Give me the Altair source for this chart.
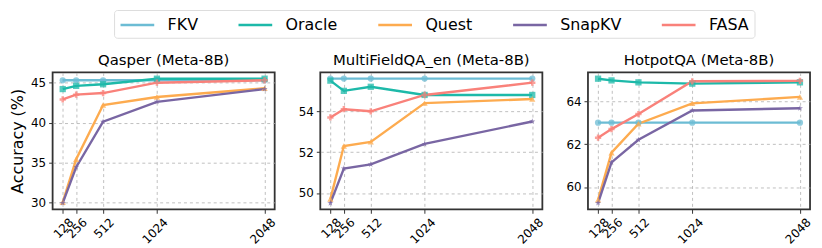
import altair as alt
import pandas as pd

budgets = [128, 256, 512, 1024, 2048]
methods = ["FKV", "Oracle", "Quest", "SnapKV", "FASA"]
colors = ["#6cbcd4", "#1db9a9", "#fdab4f", "#7966a3", "#f9817a"]

star = "M0,-1L0.235,-0.324L0.951,-0.309L0.38,0.124L0.588,0.809L0,0.4L-0.588,0.809L-0.38,0.124L-0.951,-0.309L-0.235,-0.324Z"
shapes = ["circle", "square", "triangle-up", star, "cross"]

# Qasper (Meta-8B)
qasper_fkv = [45.3, 45.3, 45.3, 45.3, 45.3]
qasper_oracle = [44.2, 44.6, 44.8, 45.5, 45.5]
qasper_quest = [30.0, 35.4, 42.2, 43.2, 44.3]
qasper_snapkv = [29.9, 34.4, 40.1, 42.6, 44.2]
qasper_fasa = [42.9, 43.5, 43.7, 45.0, 45.3]

# MultiFieldQA_en (Meta-8B)
mf_fkv = [55.6, 55.6, 55.6, 55.6, 55.6]
mf_oracle = [55.5, 55.0, 55.2, 54.8, 54.8]
mf_quest = [49.7, 52.3, 52.5, 54.4, 54.6]
mf_snapkv = [49.5, 51.2, 51.4, 52.4, 53.5]
mf_fasa = [53.7, 54.1, 54.0, 54.8, 55.4]

# HotpotQA (Meta-8B)
hp_fkv = [63.0, 63.0, 63.0, 63.0, 63.0]
hp_oracle = [65.05, 64.97, 64.88, 64.82, 64.88]
hp_quest = [59.4, 61.6, 62.95, 63.9, 64.2]
hp_snapkv = [59.25, 61.15, 62.2, 63.57, 63.67]
hp_fasa = [62.3, 62.7, 63.4, 64.93, 64.95]

panels = [
    ("Qasper (Meta-8B)", [qasper_fkv, qasper_oracle, qasper_quest, qasper_snapkv, qasper_fasa], [29.12, 46.28], [30, 35, 40, 45]),
    ("MultiFieldQA_en (Meta-8B)", [mf_fkv, mf_oracle, mf_quest, mf_snapkv, mf_fasa], [49.2, 55.9], [50, 52, 54]),
    ("HotpotQA (Meta-8B)", [hp_fkv, hp_oracle, hp_quest, hp_snapkv, hp_fasa], [58.96, 65.34], [60, 62, 64]),
]

legend = alt.Legend(
    orient="none", legendX=62, legendY=-63, direction="horizontal", title=None,
    symbolType="M-1,0H3", symbolSize=289, symbolStrokeWidth=2.5, symbolOpacity=1,
    labelFontSize=16, labelFont="DejaVu Sans", labelOffset=29, columnPadding=35,
    padding=5, strokeColor="#dddddd", cornerRadius=3, fillColor="white", labelColor="black",
)

charts = []
for i, (title, series, ydom, yticks) in enumerate(panels):
    rows = []
    for m, vals in zip(methods, series):
        for b, v in zip(budgets, vals):
            rows.append({"budget": b, "acc": v, "method": m})
    df = pd.DataFrame(rows)
    x = alt.X("budget:Q", scale=alt.Scale(domain=[32, 2144], nice=False, zero=False),
              axis=alt.Axis(values=budgets, format="d", title=None, labelAngle=-45, labelAlign="right",
                            labelBaseline="top", labelOffset=5, labelOverlap=False,
                            labelFlush=False, labelPadding=3))
    y = alt.Y("acc:Q", scale=alt.Scale(domain=ydom, nice=False, zero=False),
              axis=alt.Axis(values=yticks, title="Accuracy (%)" if i == 0 else None,
                            titleFontSize=16, titleFontWeight="normal", titlePadding=5,
                            labelOverlap=False, labelFlush=False))
    base = alt.Chart(df)
    lines = base.mark_line(strokeWidth=2.4).encode(
        x=x, y=y,
        color=alt.Color("method:N", scale=alt.Scale(domain=methods, range=colors), legend=legend, sort=methods),
    )
    layers = [lines]
    for m, c, s in zip(methods, colors, shapes):
        layers.append(
            base.transform_filter(alt.datum.method == m)
            .mark_point(filled=True, size=40, opacity=0.75, shape=s, color=c)
            .encode(x=x, y=y)
        )
    ch = alt.layer(*layers).properties(
        width=224, height=138,
        title=alt.TitleParams(title, fontSize=15, font="DejaVu Sans", fontWeight="normal", offset=5, anchor="middle", color="black"),
    )
    charts.append(ch)

chart = alt.hconcat(*charts, spacing=46, bounds="flush").resolve_scale(y="independent").configure_view(
    stroke="#333333", strokeWidth=1.8
).configure_axis(
    labelFont="DejaVu Sans", titleFont="DejaVu Sans", labelFontSize=12, labelColor="black", titleColor="black",
    tickColor="#333333", tickSize=4, tickWidth=1, domain=False,
    gridColor="#b0b0b0", gridDash=[3, 3], gridWidth=0.8, labelPadding=3,
).properties(padding={"left": 0, "top": 0, "right": 0, "bottom": 0})

chart.save("out.html", embed_options={"renderer": "svg", "actions": False})
